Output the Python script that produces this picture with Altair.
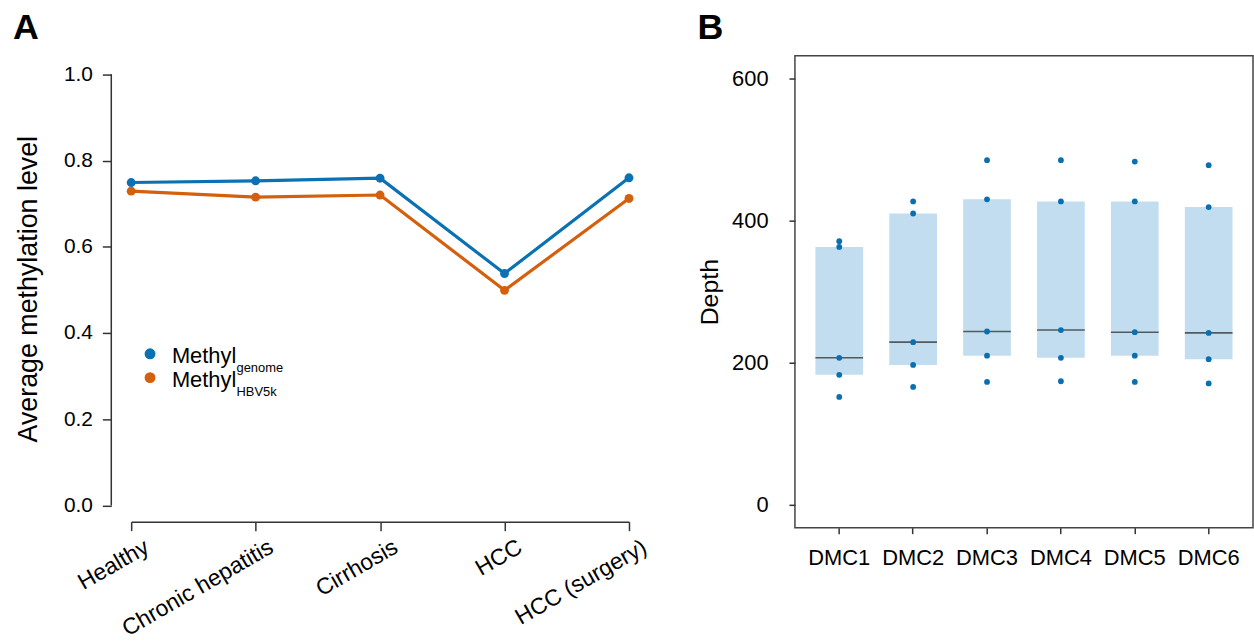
import altair as alt
import pandas as pd

# ---------------- Panel A data ----------------
stages = ["Healthy", "Chronic hepatitis", "Cirrhosis", "HCC", "HCC (surgery)"]
methyl_genome = [0.749, 0.753, 0.759, 0.538, 0.760]
methyl_hbv5k = [0.729, 0.715, 0.720, 0.499, 0.712]
series_names = ["genome", "HBV5k"]
series_colors = ["#0a72b3", "#d45f0c"]
y_ticks_a = [0.0, 0.2, 0.4, 0.6, 0.8, 1.0]

# ---------------- Panel B data ----------------
dmcs = ["DMC1", "DMC2", "DMC3", "DMC4", "DMC5", "DMC6"]
depths = {
    "DMC1": [371, 363, 207, 183, 152],
    "DMC2": [427, 410, 229, 197, 166],
    "DMC3": [485, 430, 244, 210, 173],
    "DMC4": [485, 427, 246, 207, 174],
    "DMC5": [483, 427, 243, 210, 173],
    "DMC6": [478, 419, 242, 205, 171],
}
y_ticks_b = [0, 200, 400, 600]

FONT = "Liberation Sans"
AXC = "#333333"

dfA = pd.DataFrame(
    [{"stage": s, "series": series_names[0], "value": v} for s, v in zip(stages, methyl_genome)]
    + [{"stage": s, "series": series_names[1], "value": v} for s, v in zip(stages, methyl_hbv5k)]
)

color_scale = alt.Scale(domain=series_names, range=series_colors)

xA = alt.X(
    "stage:N",
    sort=stages,
    scale=alt.Scale(type="point", padding=0),
    axis=alt.Axis(
        title=None, labelAngle=330, labelAlign="right", labelBaseline="top",
        labelFontSize=23, tickSize=9, labelPadding=5, labelOffset=10,
        domainColor=AXC, tickColor=AXC, domainWidth=1.5, tickWidth=1.5,
    ),
)
yA = alt.Y(
    "value:Q",
    scale=alt.Scale(domain=[-0.0376, 1.0431], nice=False, zero=False),
    axis=alt.Axis(
        values=y_ticks_a, format=".1f", offset=20, domain=False, tickSize=9,
        labelPadding=10, labelFontSize=21, tickColor=AXC, tickWidth=1.5,
        title="Average methylation level", titleFontSize=27,
        titleFontWeight="normal", titlePadding=21,
    ),
)

baseA = alt.Chart(dfA)
linesA = baseA.mark_line(strokeWidth=3.2).encode(
    x=xA, y=yA, color=alt.Color("series:N", scale=color_scale, legend=None),
    detail="series:N",
)
ptsA = baseA.mark_circle(size=80, opacity=1).encode(
    x=xA, y=yA, color=alt.Color("series:N", scale=color_scale, legend=None)
)
yaxis_line = alt.Chart(pd.DataFrame({"a": [0]})).mark_rule(
    color=AXC, strokeWidth=1.5
).encode(x=alt.value(-20), y=alt.datum(0.0), y2=alt.datum(1.0))

# custom legend with subscripts
leg_df = pd.DataFrame({"series": series_names, "main": ["Methyl", "Methyl"]})
leg_pts = [
    alt.Chart(leg_df.iloc[[i]]).mark_circle(size=120, opacity=1).encode(
        x=alt.value(19), y=alt.value(300 + 24 * i),
        color=alt.Color("series:N", scale=color_scale, legend=None),
    )
    for i in range(2)
]
leg_main = [
    alt.Chart(leg_df.iloc[[i]]).mark_text(
        fontSize=22, align="left", baseline="alphabetic", color="black"
    ).encode(x=alt.value(41), y=alt.value(309 + 24 * i), text="main:N")
    for i in range(2)
]
leg_sub = [
    alt.Chart(leg_df.iloc[[i]]).mark_text(
        fontSize=13, align="left", baseline="alphabetic", color="black"
    ).encode(x=alt.value(106), y=alt.value(318 + 24 * i), text="series:N")
    for i in range(2)
]

labelA = alt.Chart(pd.DataFrame({"t": ["A"]})).mark_text(
    fontSize=36, fontWeight="bold", align="left", baseline="alphabetic", color="black"
).encode(x=alt.value(-119), y=alt.value(-17), text="t:N")

panelA = alt.layer(
    linesA, ptsA, yaxis_line, *leg_pts, *leg_main, *leg_sub, labelA
).properties(width=501, height=469)

# ---------------- Panel B ----------------
dfB = pd.DataFrame(
    [{"dmc": d, "depth": v} for d in dmcs for v in depths[d]]
)

xB = alt.X(
    "dmc:N",
    sort=dmcs,
    scale=alt.Scale(paddingInner=0, paddingOuter=0.1),
    axis=alt.Axis(
        title=None, labelAngle=0, labelFontSize=22, domain=False, tickSize=6,
        labelPadding=14, tickColor=AXC, tickWidth=1.5,
    ),
)
yscaleB = alt.Scale(domain=[-32, 632], nice=False, zero=False)
yaxisB = alt.Axis(
    values=y_ticks_b, domain=False, tickSize=6, labelPadding=21,
    labelFontSize=22, tickColor=AXC, tickWidth=1.5, grid=False,
    title="Depth", titleFontSize=25, titleFontWeight="normal", titlePadding=9,
)

baseB = alt.Chart(dfB)
boxes = baseB.mark_bar(size=48, color="#c2ddef").encode(
    x=xB, y=alt.Y("q1:Q", scale=yscaleB, axis=yaxisB), y2="q3:Q"
).transform_aggregate(
    q1="q1(depth)", q3="q3(depth)", groupby=["dmc"]
)
medians = baseB.mark_tick(size=48, thickness=1.6, color="#222222").encode(
    x=xB, y=alt.Y("med:Q", scale=yscaleB, axis=yaxisB)
).transform_aggregate(med="median(depth)", groupby=["dmc"])
ptsB = baseB.mark_circle(size=34, opacity=1, color="#0a6fb1").encode(
    x=xB, y=alt.Y("depth:Q", scale=yscaleB, axis=yaxisB)
)
labelB = alt.Chart(pd.DataFrame({"t": ["B"]})).mark_text(
    fontSize=36, fontWeight="bold", align="left", baseline="alphabetic", color="black"
).encode(x=alt.value(-98), y=alt.value(-17), text="t:N")

panelB = alt.layer(boxes, medians, ptsB, labelB).properties(
    width=461, height=475,
    view=alt.ViewBackground(stroke="#444444", strokeWidth=1.5),
)

chart = alt.hconcat(panelA, panelB, spacing=46).properties(
    padding={"left": 13, "top": 7, "right": 0, "bottom": 0}
).configure(font=FONT).configure_view(strokeWidth=0).configure_axis(
    labelColor="black", titleColor="black", grid=False, labelFont=FONT, titleFont=FONT
)

chart.save("out.html", embed_options={"renderer": "svg", "actions": False})
